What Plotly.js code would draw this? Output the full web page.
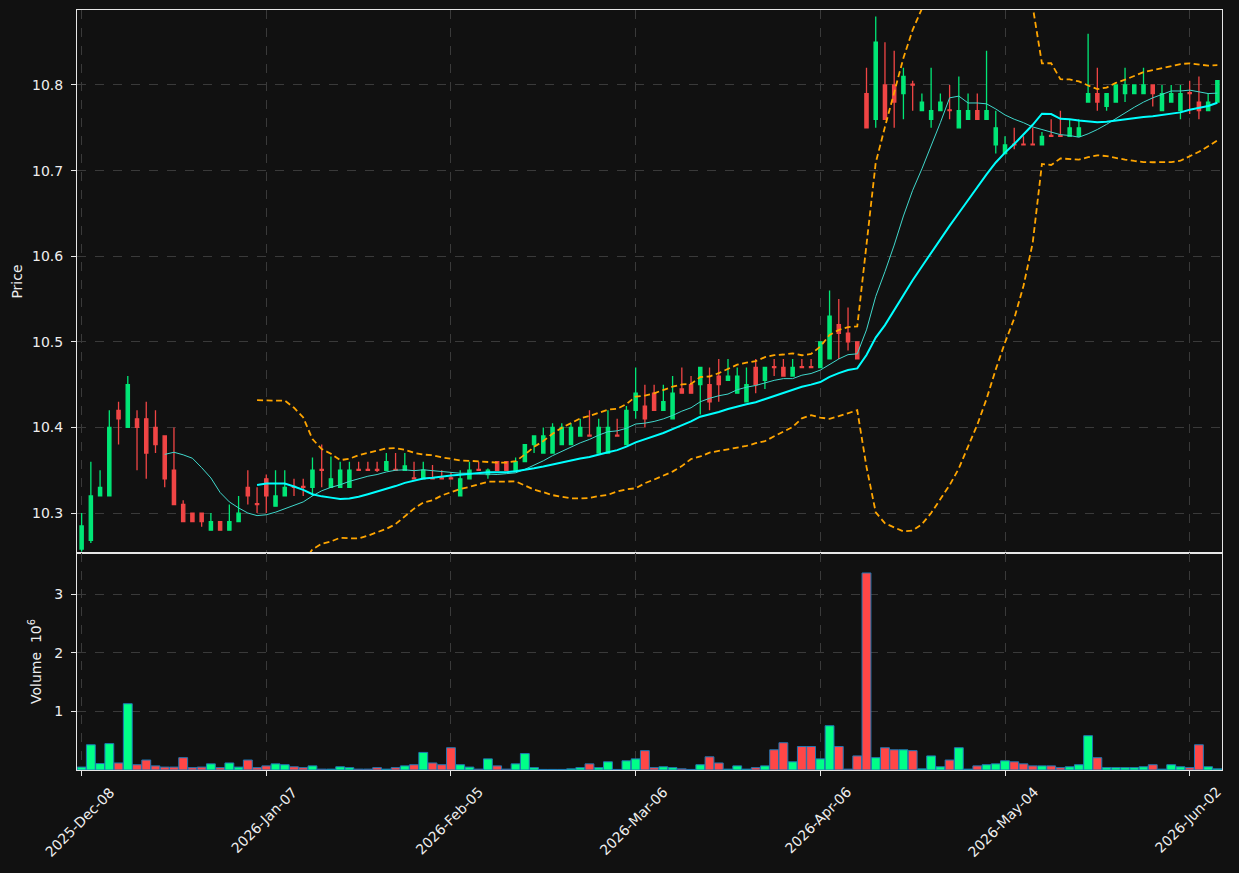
<!DOCTYPE html>
<html>
<head>
<meta charset="utf-8">
<script src="https://cdn.plot.ly/plotly-3.0.1.min.js"></script>
<style>
  html, body { margin: 0; padding: 0; background: #111111; }
  #chart { width: 1239px; height: 873px; }
</style>
</head>
<body>
<div id="chart"></div>
<script>
// Trading-day index tick labels (every 20 sessions)
const tickIdx = [0, 20, 40, 60, 80, 100, 120];
const tickLabels = ['2025-Dec-08', '2026-Jan-07', '2026-Feb-05', '2026-Mar-06', '2026-Apr-06', '2026-May-04', '2026-Jun-02'];

const openP = [
  10.258, 10.268, 10.32, 10.32, 10.42, 10.40, 10.41, 10.41, 10.40, 10.39,
  10.35, 10.31, 10.30, 10.30, 10.28, 10.29, 10.28, 10.29, 10.33, 10.311,
  10.34, 10.308, 10.32, 10.331, 10.331, 10.33, 10.351, 10.33, 10.33, 10.33,
  10.351, 10.351, 10.351, 10.35, 10.351, 10.35, 10.341, 10.34, 10.341, 10.341,
  10.341, 10.32, 10.34, 10.351, 10.345, 10.36, 10.36, 10.35, 10.36, 10.38,
  10.37, 10.37, 10.38, 10.38, 10.39, 10.391, 10.37, 10.37, 10.391, 10.38,
  10.42, 10.425, 10.44, 10.42, 10.41, 10.445, 10.45, 10.45, 10.45, 10.46,
  10.455, 10.44, 10.43, 10.47, 10.455, 10.471, 10.47, 10.46, 10.471, 10.471,
  10.47, 10.48, 10.52, 10.51, 10.50, 10.79, 10.76, 10.80, 10.80, 10.79,
  10.801, 10.77, 10.76, 10.77, 10.771, 10.75, 10.76, 10.77, 10.76, 10.73,
  10.72, 10.731, 10.731, 10.731, 10.73, 10.741, 10.741, 10.74, 10.74, 10.78,
  10.79, 10.775, 10.78, 10.79, 10.79, 10.79, 10.80, 10.77, 10.78, 10.77,
  10.791, 10.78, 10.77, 10.78
];
const highP = [
  10.30, 10.36, 10.35, 10.42, 10.43, 10.46, 10.42, 10.43, 10.42, 10.39,
  10.40, 10.315, 10.30, 10.30, 10.30, 10.29, 10.31, 10.32, 10.35, 10.33,
  10.345, 10.35, 10.35, 10.34, 10.34, 10.365, 10.38, 10.366, 10.36, 10.36,
  10.36, 10.36, 10.36, 10.37, 10.37, 10.37, 10.36, 10.36, 10.356, 10.35,
  10.348, 10.35, 10.36, 10.36, 10.352, 10.36, 10.36, 10.365, 10.38, 10.39,
  10.40, 10.405, 10.405, 10.405, 10.41, 10.42, 10.41, 10.42, 10.41, 10.425,
  10.47, 10.45, 10.45, 10.45, 10.46, 10.47, 10.46, 10.47, 10.47, 10.48,
  10.48, 10.47, 10.47, 10.48, 10.47, 10.48, 10.48, 10.48, 10.48, 10.48,
  10.50, 10.56, 10.55, 10.54, 10.50, 10.82, 10.88, 10.85, 10.84, 10.82,
  10.805, 10.79, 10.82, 10.79, 10.80, 10.81, 10.79, 10.79, 10.84, 10.77,
  10.74, 10.75, 10.74, 10.75, 10.745, 10.76, 10.77, 10.76, 10.76, 10.86,
  10.82, 10.79, 10.80, 10.82, 10.80, 10.82, 10.80, 10.80, 10.80, 10.80,
  10.805, 10.81, 10.79, 10.805
];
const lowP = [
  10.255, 10.265, 10.32, 10.32, 10.38, 10.40, 10.35, 10.34, 10.37, 10.33,
  10.31, 10.29, 10.29, 10.284, 10.28, 10.28, 10.28, 10.29, 10.31, 10.30,
  10.30, 10.308, 10.32, 10.32, 10.32, 10.32, 10.33, 10.33, 10.33, 10.33,
  10.35, 10.35, 10.348, 10.35, 10.35, 10.35, 10.34, 10.34, 10.34, 10.34,
  10.34, 10.32, 10.34, 10.35, 10.34, 10.35, 10.35, 10.35, 10.36, 10.37,
  10.37, 10.37, 10.38, 10.38, 10.39, 10.39, 10.37, 10.37, 10.39, 10.38,
  10.41, 10.40, 10.42, 10.42, 10.41, 10.44, 10.44, 10.415, 10.42, 10.43,
  10.455, 10.44, 10.43, 10.44, 10.445, 10.46, 10.46, 10.46, 10.47, 10.47,
  10.47, 10.48, 10.48, 10.49, 10.48, 10.75, 10.75, 10.76, 10.75, 10.76,
  10.77, 10.77, 10.75, 10.77, 10.76, 10.75, 10.76, 10.76, 10.76, 10.72,
  10.72, 10.725, 10.73, 10.73, 10.73, 10.74, 10.74, 10.74, 10.74, 10.78,
  10.77, 10.77, 10.78, 10.78, 10.79, 10.79, 10.775, 10.77, 10.78, 10.76,
  10.766, 10.76, 10.77, 10.78
];
const closeP = [
  10.285, 10.32, 10.33, 10.40, 10.41, 10.45, 10.40, 10.37, 10.38, 10.34,
  10.31, 10.29, 10.29, 10.29, 10.29, 10.28, 10.29, 10.30, 10.32, 10.31,
  10.32, 10.32, 10.33, 10.33, 10.33, 10.35, 10.35, 10.34, 10.35, 10.35,
  10.35, 10.35, 10.35, 10.36, 10.35, 10.355, 10.34, 10.35, 10.34, 10.34,
  10.34, 10.34, 10.35, 10.35, 10.35, 10.35, 10.35, 10.36, 10.38, 10.39,
  10.39, 10.40, 10.40, 10.40, 10.40, 10.39, 10.40, 10.40, 10.39, 10.42,
  10.44, 10.41, 10.42, 10.43, 10.44, 10.44, 10.44, 10.47, 10.43, 10.45,
  10.46, 10.46, 10.45, 10.45, 10.47, 10.47, 10.46, 10.47, 10.47, 10.47,
  10.50, 10.53, 10.51, 10.50, 10.48, 10.75, 10.85, 10.76, 10.78, 10.81,
  10.80, 10.78, 10.77, 10.78, 10.77, 10.77, 10.77, 10.76, 10.77, 10.75,
  10.73, 10.73, 10.73, 10.73, 10.74, 10.74, 10.74, 10.75, 10.75, 10.79,
  10.78, 10.79, 10.80, 10.80, 10.80, 10.80, 10.79, 10.79, 10.79, 10.79,
  10.79, 10.77, 10.78, 10.805
];
// Volume in millions of shares
const volumeM = [
  0.05, 0.43, 0.11, 0.45, 0.12, 1.13, 0.09, 0.17, 0.07, 0.05,
  0.05, 0.21, 0.04, 0.05, 0.105, 0.04, 0.12, 0.05, 0.17, 0.04,
  0.07, 0.105, 0.09, 0.055, 0.04, 0.07, 0.015, 0.015, 0.055, 0.04,
  0.015, 0.015, 0.04, 0.015, 0.04, 0.07, 0.09, 0.30, 0.12, 0.09,
  0.38, 0.09, 0.05, 0.015, 0.19, 0.07, 0.015, 0.105, 0.28, 0.04,
  0.01, 0.01, 0.01, 0.02, 0.04, 0.105, 0.04, 0.14, 0.01, 0.157,
  0.19, 0.33, 0.04, 0.055, 0.04, 0.02, 0.01, 0.09, 0.225, 0.12,
  0.015, 0.07, 0.015, 0.04, 0.07, 0.345, 0.465, 0.14, 0.40, 0.40,
  0.19, 0.755, 0.40, 0.015, 0.24, 3.36, 0.21, 0.38, 0.345, 0.345,
  0.33, 0.02, 0.24, 0.055, 0.17, 0.38, 0.015, 0.07, 0.09, 0.105,
  0.157, 0.14, 0.105, 0.07, 0.07, 0.07, 0.04, 0.055, 0.09, 0.585,
  0.21, 0.04, 0.04, 0.04, 0.04, 0.055, 0.09, 0.015, 0.09, 0.055,
  0.04, 0.43, 0.055, 0.02
];

const idx = closeP.map((_, i) => i);

// Indicators derived from the closes: SMA10, SMA20 and Bollinger bands (20, 2σ)
function sma(arr, n) {
  return arr.map((_, i) => {
    if (i < n - 1) return null;
    let s = 0;
    for (let k = i - n + 1; k <= i; k++) s += arr[k];
    return s / n;
  });
}
function stdev(arr, n) {
  return arr.map((_, i) => {
    if (i < n - 1) return null;
    let s = 0;
    for (let k = i - n + 1; k <= i; k++) s += arr[k];
    const m = s / n;
    let v = 0;
    for (let k = i - n + 1; k <= i; k++) v += (arr[k] - m) * (arr[k] - m);
    return Math.sqrt(v / n);
  });
}
const ma10 = sma(closeP, 10);
const ma20 = sma(closeP, 20);
const sd20 = stdev(closeP, 20);
const bbUpper = ma20.map((m, i) => m === null ? null : m + 2 * sd20[i]);
const bbLower = ma20.map((m, i) => m === null ? null : m - 2 * sd20[i]);

const GREEN = '#00e676', RED = '#f04545';
const VGREEN = '#00ff88', VRED = '#ff4747';
const volColors = closeP.map((c, i) => c >= openP[i] ? VGREEN : VRED);

const traces = [
  {
    type: 'candlestick', x: idx, open: openP, high: highP, low: lowP, close: closeP,
    xaxis: 'x', yaxis: 'y', whiskerwidth: 0,
    increasing: { line: { color: GREEN, width: 1.3 }, fillcolor: GREEN },
    decreasing: { line: { color: RED, width: 1.3 }, fillcolor: RED },
    hoverinfo: 'x+y'
  },
  { type: 'scatter', mode: 'lines', x: idx, y: bbUpper, xaxis: 'x', yaxis: 'y',
    line: { color: '#ffa500', width: 1.8, dash: '6px,3.5px' } },
  { type: 'scatter', mode: 'lines', x: idx, y: bbLower, xaxis: 'x', yaxis: 'y',
    line: { color: '#ffa500', width: 1.8, dash: '6px,3.5px' } },
  { type: 'scatter', mode: 'lines', x: idx, y: ma10, xaxis: 'x', yaxis: 'y',
    line: { color: '#40d8cc', width: 1 } },
  { type: 'scatter', mode: 'lines', x: idx, y: ma20, xaxis: 'x', yaxis: 'y',
    line: { color: '#00ffff', width: 2 } },
  { type: 'bar', x: idx, y: volumeM, xaxis: 'x2', yaxis: 'y2',
    marker: { color: volColors, line: { color: '#1f77b4', width: 1 } } }
];

const gridCol = '#3a3a3a';
const lineCol = '#e6e6e6';
const commonX = {
  range: [-0.5, 123.5], tickmode: 'array', tickvals: tickIdx, ticktext: tickLabels,
  showgrid: true, gridcolor: gridCol, griddash: 'dash', gridwidth: 1,
  showline: true, mirror: true, linecolor: lineCol, linewidth: 1, zeroline: false
};

// Date labels centred under their ticks, rotated 45°
const dateAnnotations = tickIdx.map((t, i) => ({
  x: t, xref: 'x2', y: 0, yref: 'paper', xanchor: 'center', yanchor: 'top',
  text: tickLabels[i], textangle: -45, showarrow: false, yshift: -11, xshift: -2,
  font: { size: 14, color: '#eeeeee', family: 'DejaVu Sans, sans-serif' }
}));

const layout = {
  width: 1239, height: 873,
  paper_bgcolor: '#111111', plot_bgcolor: '#111111',
  margin: { l: 77, r: 17, t: 10, b: 103 },
  showlegend: false,
  font: { family: 'DejaVu Sans, sans-serif', color: '#eeeeee', size: 14 },
  boxgap: 0.5,
  bargap: 0.04,
  annotations: dateAnnotations,
  xaxis: Object.assign({}, commonX, {
    anchor: 'y', domain: [0, 1], matches: 'x2', showticklabels: false, ticks: '',
    rangeslider: { visible: false }
  }),
  xaxis2: Object.assign({}, commonX, {
    anchor: 'y2', domain: [0, 1], ticks: 'outside', ticklen: 5, tickcolor: lineCol,
    showticklabels: false
  }),
  yaxis: {
    domain: [0.2855, 1], anchor: 'x', range: [10.2533, 10.8876],
    tick0: 10.3, dtick: 0.1, tickformat: '.1f',
    showgrid: true, gridcolor: gridCol, griddash: 'dash',
    showline: true, mirror: true, linecolor: lineCol, zeroline: false,
    ticks: 'outside', ticklen: 5, tickcolor: lineCol, ticklabelstandoff: 5,
    title: { text: 'Price', font: { size: 14, color: '#eeeeee' }, standoff: 6 }
  },
  yaxis2: {
    domain: [0, 0.2855], anchor: 'x2', range: [0, 3.70],
    tickmode: 'array', tickvals: [1, 2, 3], ticktext: ['1', '2', '3'],
    showgrid: true, gridcolor: gridCol, griddash: 'dash',
    showline: true, mirror: true, linecolor: lineCol, zeroline: false,
    ticks: 'outside', ticklen: 5, tickcolor: lineCol, ticklabelstandoff: 5,
    title: { text: 'Volume  10<sup>6</sup>', font: { size: 14, color: '#eeeeee' }, standoff: 9 }
  }
};

Plotly.newPlot('chart', traces, layout, { displayModeBar: false, staticPlot: true });
</script>
</body>
</html>
